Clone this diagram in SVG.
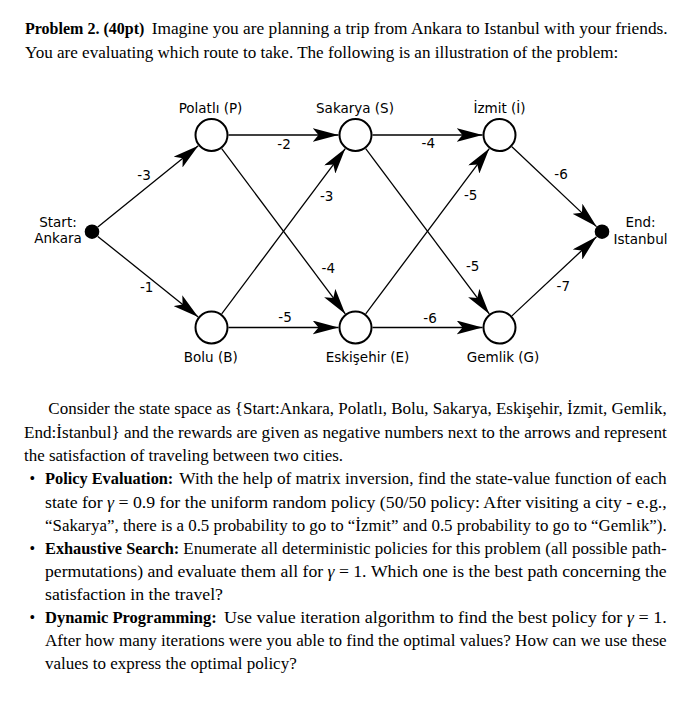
<svg xmlns="http://www.w3.org/2000/svg" width="697" height="727" viewBox="0 0 697 727">
<style>
.bg{fill:#fff}
.city{fill:#fff;stroke:#000;stroke-width:2}
.dot{fill:#000}
.lbl{font-family:"DejaVu Sans",Verdana,sans-serif;font-size:13.5px;fill:#000;text-anchor:middle}
.edge{stroke:#000;stroke-width:1.3;fill:none;marker-end:url(#ah)}
.w{font-family:"DejaVu Sans",Verdana,sans-serif;font-size:13.5px;fill:#000;text-anchor:middle}
.t{font-family:"Liberation Serif","Times New Roman",serif;font-size:16px;fill:#000}
.b{font-weight:bold}
.g{font-style:italic}
</style>
<defs>
<marker id="ah" markerUnits="userSpaceOnUse" viewBox="0 0 26 14" markerWidth="26" markerHeight="14" refX="26" refY="7" orient="auto">
<path d="M26,7 L0,0 L6,7 L0,14 Z" fill="#000"/>
</marker>
</defs>
<rect class="bg" x="0" y="0" width="697" height="727"/>

<g id="heading">
<text class="t b" x="25" y="34.3" textLength="119.3" lengthAdjust="spacingAndGlyphs">Problem 2. (40pt)</text>
<text class="t" x="151.7" y="34.3" textLength="516" lengthAdjust="spacingAndGlyphs">Imagine you are planning a trip from Ankara to Istanbul with your friends.</text>
<text class="t" x="25" y="57.7" textLength="593.3" lengthAdjust="spacingAndGlyphs">You are evaluating which route to take. The following is an illustration of the problem:</text>
</g>

<g id="connectors">
<g id="e-A-P"><line class="edge" x1="97.8" y1="227" x2="198.3" y2="145.7"/><text class="w" x="144" y="180">-3</text></g>
<g id="e-A-B"><line class="edge" x1="97.8" y1="236.4" x2="198.2" y2="316.9"/><text class="w" x="146.7" y="292.3">-1</text></g>
<g id="e-P-S"><line class="edge" x1="228.5" y1="135" x2="338.5" y2="135"/><text class="w" x="284" y="149">-2</text></g>
<g id="e-P-E"><line class="edge" x1="221.7" y1="148.6" x2="345.3" y2="313.9"/><text class="w" x="328.3" y="273.3">-4</text></g>
<g id="e-B-S"><line class="edge" x1="221.7" y1="313.9" x2="345.3" y2="148.6"/><text class="w" x="326.7" y="200.7">-3</text></g>
<g id="e-B-E"><line class="edge" x1="228.5" y1="327.5" x2="338.5" y2="327.5"/><text class="w" x="285" y="322.3">-5</text></g>
<g id="e-S-I"><line class="edge" x1="372.5" y1="135" x2="482.5" y2="135"/><text class="w" x="428.3" y="148.3">-4</text></g>
<g id="e-S-G"><line class="edge" x1="365.7" y1="148.6" x2="489.3" y2="313.9"/><text class="w" x="472.7" y="271">-5</text></g>
<g id="e-E-I"><line class="edge" x1="365.7" y1="313.9" x2="489.3" y2="148.6"/><text class="w" x="470.7" y="200">-5</text></g>
<g id="e-E-G"><line class="edge" x1="372.5" y1="327.5" x2="482.5" y2="327.5"/><text class="w" x="430" y="323.3">-6</text></g>
<g id="e-I-T"><line class="edge" x1="511.9" y1="146.7" x2="596.5" y2="226.6"/><text class="w" x="561" y="179.3">-6</text></g>
<g id="e-G-T"><line class="edge" x1="511.9" y1="315.9" x2="596.5" y2="236.8"/><text class="w" x="563.3" y="291">-7</text></g>
</g>

<g id="n-start"><circle class="dot" cx="92" cy="231.7" r="7.3"/><text class="lbl" x="58" y="226.7">Start:</text><text class="lbl" x="58" y="243.3">Ankara</text></g>
<g id="n-P"><circle class="city" cx="211.5" cy="135" r="16"/><text class="lbl" x="210.5" y="112.7">Polatlı (P)</text></g>
<g id="n-B"><circle class="city" cx="211.5" cy="327.5" r="16"/><text class="lbl" x="210.8" y="361.7">Bolu (B)</text></g>
<g id="n-S"><circle class="city" cx="355.5" cy="135" r="16"/><text class="lbl" x="355" y="113">Sakarya (S)</text></g>
<g id="n-E"><circle class="city" cx="355.5" cy="327.5" r="16"/><text class="lbl" x="367.5" y="361.7">Eskişehir (E)</text></g>
<g id="n-I"><circle class="city" cx="499.5" cy="135" r="16"/><text class="lbl" x="499.5" y="112.7">İzmit (İ)</text></g>
<g id="n-G"><circle class="city" cx="499.5" cy="327.5" r="16"/><text class="lbl" x="503" y="361.7">Gemlik (G)</text></g>
<g id="n-end"><circle class="dot" cx="602" cy="231.7" r="7.3"/><text class="lbl" x="640.5" y="227.3">End:</text><text class="lbl" x="640.5" y="244">Istanbul</text></g>

<g id="body">
<text class="t" x="48.3" y="414.3" textLength="618.4" lengthAdjust="spacingAndGlyphs">Consider the state space as {Start:Ankara, Polatlı, Bolu, Sakarya, Eskişehir, İzmit, Gemlik,</text>
<text class="t" x="24" y="437.6" textLength="642.7" lengthAdjust="spacingAndGlyphs">End:İstanbul} and the rewards are given as negative numbers next to the arrows and represent</text>
<text class="t" x="24" y="460.9" textLength="319" lengthAdjust="spacingAndGlyphs">the satisfaction of traveling between two cities.</text>

<text class="t" x="29.5" y="484.2">•</text>
<text class="t b" x="45" y="484.2" textLength="128.3" lengthAdjust="spacingAndGlyphs">Policy Evaluation:</text>
<text class="t" x="179.3" y="484.2" textLength="487.4" lengthAdjust="spacingAndGlyphs">With the help of matrix inversion, find the state-value function of each</text>
<text class="t" x="45" y="507.5" textLength="621.7" lengthAdjust="spacingAndGlyphs">state for <tspan class="g">γ</tspan> = 0.9 for the uniform random policy (50/50 policy: After visiting a city - e.g.,</text>
<text class="t" x="45" y="530.8" textLength="621.7" lengthAdjust="spacingAndGlyphs">“Sakarya”, there is a 0.5 probability to go to “İzmit” and 0.5 probability to go to “Gemlik”).</text>

<text class="t" x="29.5" y="553.5">•</text>
<text class="t b" x="45" y="553.5" textLength="134.3" lengthAdjust="spacingAndGlyphs">Exhaustive Search:</text>
<text class="t" x="183.3" y="553.5" textLength="483.4" lengthAdjust="spacingAndGlyphs">Enumerate all deterministic policies for this problem (all possible path-</text>
<text class="t" x="45" y="576.8" textLength="621.7" lengthAdjust="spacingAndGlyphs">permutations) and evaluate them all for <tspan class="g">γ</tspan> = 1. Which one is the best path concerning the</text>
<text class="t" x="45" y="600" textLength="178" lengthAdjust="spacingAndGlyphs">satisfaction in the travel?</text>

<text class="t" x="29.5" y="623">•</text>
<text class="t b" x="45" y="623" textLength="171.7" lengthAdjust="spacingAndGlyphs">Dynamic Programming:</text>
<text class="t" x="224" y="623" textLength="442.7" lengthAdjust="spacingAndGlyphs">Use value iteration algorithm to find the best policy for <tspan class="g">γ</tspan> = 1.</text>
<text class="t" x="45" y="646.3" textLength="621.7" lengthAdjust="spacingAndGlyphs">After how many iterations were you able to find the optimal values? How can we use these</text>
<text class="t" x="45" y="669" textLength="251.7" lengthAdjust="spacingAndGlyphs">values to express the optimal policy?</text>
</g>
</svg>
